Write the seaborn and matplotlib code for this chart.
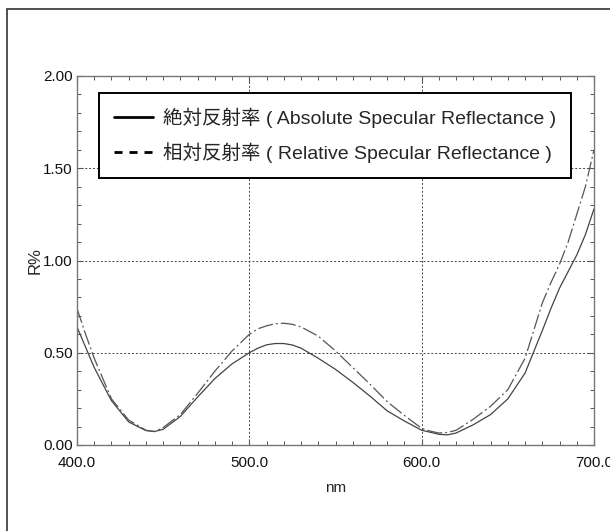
import numpy as np
import pandas as pd
import matplotlib
matplotlib.use('Agg')
import matplotlib.pyplot as plt
import seaborn as sns
from matplotlib.lines import Line2D
from matplotlib.patches import Rectangle
from matplotlib.ticker import MultipleLocator, FormatStrFormatter

# Wavelength (nm) and reflectance readings (R%)
nm_abs = [400, 405, 410, 420, 430, 440, 445, 450, 460, 470, 480, 490, 500,
          505, 510, 515, 520, 525, 530, 540, 550, 560, 570, 580, 590, 600,
          610, 615, 620, 630, 640, 650, 660, 670, 675, 680, 685, 690, 695, 700]
r_abs = [0.64, 0.53, 0.42, 0.24, 0.125, 0.078, 0.073, 0.085, 0.155, 0.26,
         0.36, 0.44, 0.50, 0.525, 0.543, 0.55, 0.55, 0.542, 0.525, 0.47,
         0.41, 0.34, 0.265, 0.185, 0.13, 0.08, 0.058, 0.055, 0.065, 0.11,
         0.165, 0.25, 0.39, 0.62, 0.74, 0.85, 0.94, 1.03, 1.14, 1.28]

nm_rel = [400, 405, 410, 420, 430, 440, 445, 450, 460, 470, 480, 490, 500,
          505, 510, 515, 520, 525, 530, 540, 550, 560, 570, 580, 590, 600,
          605, 610, 615, 620, 630, 640, 650, 660, 670, 675, 680, 685, 690,
          695, 700]
r_rel = [0.74, 0.60, 0.47, 0.25, 0.135, 0.08, 0.073, 0.095, 0.165, 0.28,
         0.40, 0.51, 0.60, 0.63, 0.646, 0.657, 0.66, 0.654, 0.64, 0.59,
         0.51, 0.42, 0.33, 0.235, 0.16, 0.09, 0.075, 0.065, 0.068, 0.08,
         0.14, 0.21, 0.30, 0.47, 0.77, 0.88, 0.98, 1.10, 1.25, 1.40, 1.60]

label_abs = '絶対反射率 ( Absolute Specular Reflectance )'
label_rel = '相対反射率 ( Relative Specular Reflectance )'

abs_df = pd.DataFrame({'nm': nm_abs, 'R': r_abs})
rel_df = pd.DataFrame({'nm': nm_rel, 'R': r_rel})

sns.set_style('ticks')
plt.rcParams['font.family'] = ['Liberation Sans', 'Noto Sans CJK JP', 'DejaVu Sans']

fig = plt.figure(figsize=(6.1, 5.31), dpi=100)
ax = fig.add_axes([77 / 610, 1 - 445 / 531, 517 / 610, 369 / 531])

# outer frame (cropped at right and bottom)
fig.patches.append(Rectangle((7 / 610, -0.1), 1.2, 1 - 9 / 531 + 0.1,
                             transform=fig.transFigure, fill=False,
                             edgecolor='#333333', linewidth=1.2))

sns.lineplot(data=abs_df, x='nm', y='R', ax=ax, color='#444444',
             linewidth=0.9, estimator=None)
sns.lineplot(data=rel_df, x='nm', y='R', ax=ax, color='#555555',
             linewidth=0.9, estimator=None)
ax.lines[-1].set_dashes((12, 2.5, 1.5, 2.5))

ax.set_xlim(400, 700)
ax.set_ylim(0, 2)
ax.xaxis.set_major_locator(MultipleLocator(100))
ax.xaxis.set_minor_locator(MultipleLocator(10))
ax.yaxis.set_major_locator(MultipleLocator(0.5))
ax.yaxis.set_minor_locator(MultipleLocator(0.1))
ax.xaxis.set_major_formatter(FormatStrFormatter('%.1f'))
ax.yaxis.set_major_formatter(FormatStrFormatter('%.2f'))

ax.tick_params(which='both', direction='in', top=True, right=True,
               color='#555555', labelsize=11, labelcolor='#111111')
ax.tick_params(which='major', length=4, width=0.8)
ax.tick_params(which='minor', length=3, width=0.7)
ax.tick_params(axis='x', which='major', pad=8)
ax.tick_params(axis='y', which='major', pad=3)
for side in ax.spines.values():
    side.set_color('#777777')
    side.set_linewidth(1.0)

ax.grid(which='major', color='#444444', linestyle=(0, (2, 2)), linewidth=0.7)

ax.set_xlabel('nm', fontsize=11)
ax.set_ylabel('R%', fontsize=12)
ax.xaxis.set_label_coords(0.5, -0.098)
ax.yaxis.set_label_coords(-0.066, 0.5)

handles = [Line2D([], [], color='black', linewidth=2),
           Line2D([], [], color='black', linewidth=2, dashes=(2.9, 2.5))]
leg = ax.legend(handles, [label_abs, label_rel], loc='upper left',
                bbox_to_anchor=(0.0426, 0.954), borderaxespad=0,
                fontsize=14, frameon=True, fancybox=False, framealpha=1,
                edgecolor='black', handlelength=2.0, handletextpad=0.5,
                labelspacing=0.72, borderpad=0.77)
leg.get_frame().set_linewidth(1.4)

fig.savefig('out.png', dpi=100)
